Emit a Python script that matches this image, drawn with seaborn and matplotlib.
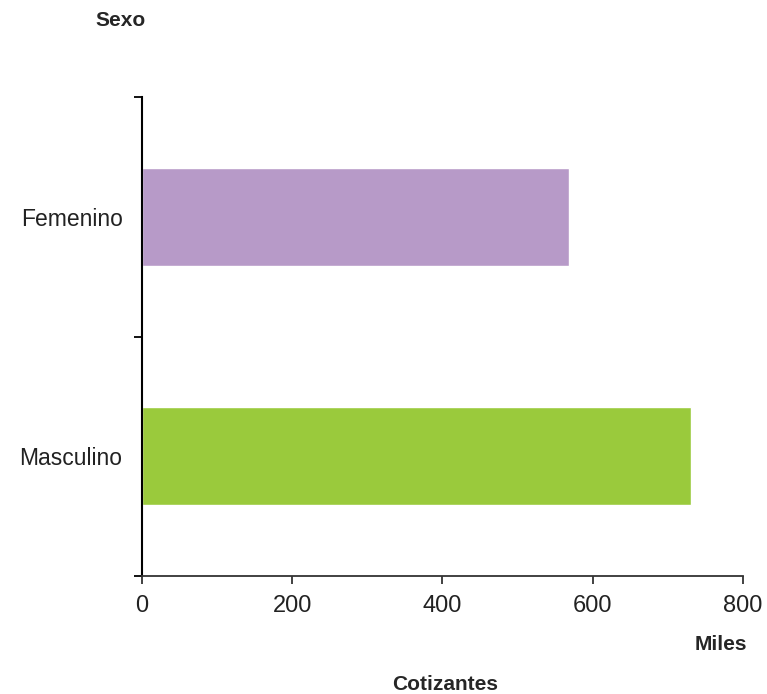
import matplotlib
matplotlib.use("Agg")
import matplotlib.pyplot as plt
import seaborn as sns
import pandas as pd
from matplotlib.ticker import FixedLocator

categories = ["Femenino", "Masculino"]
values = [568, 731]
colors = ["#b79ac8", "#9aca3c"]
xticks = [0, 200, 400, 600, 800]

sns.set_theme(style="white")
plt.rcParams["font.family"] = ["Liberation Sans", "DejaVu Sans"]

df = pd.DataFrame({"Sexo": categories, "Cotizantes": values})

fig = plt.figure(figsize=(7.67, 6.94), dpi=100)
ax = fig.add_axes([142/767, 1-576/694, (743-142)/767, (576-97)/694])

sns.barplot(data=df, y="Sexo", x="Cotizantes", hue="Sexo", palette=colors,
            orient="h", width=0.41, ax=ax, legend=False, saturation=1)

ax.set_xlim(0, 800)
ax.set_ylim(1.5, -0.5)
ax.set_xticks(xticks)
ax.set_xticklabels([str(v) for v in xticks], fontsize=17, color="#222222")
ax.set_yticks([0, 1])
ax.set_yticklabels(categories, fontsize=16.5, color="#222222")
ax.yaxis.set_minor_locator(FixedLocator([-0.5, 0.5, 1.5]))
ax.tick_params(axis="y", which="major", length=0, pad=14)
ax.tick_params(axis="y", which="minor", length=6, width=1.3, color="black", left=True)
ax.tick_params(axis="x", which="major", length=6, width=1.3, color="#333333", bottom=True, pad=8)
ax.set_xlabel("")
ax.set_ylabel("")

for s in ["top", "right"]:
    ax.spines[s].set_visible(False)
ax.spines["left"].set_color("black")
ax.spines["left"].set_linewidth(1.5)
ax.spines["bottom"].set_color("#333333")
ax.spines["bottom"].set_linewidth(1.3)

fig.text(121/767, 1-21/694, "Sexo", ha="center", va="center", fontsize=15, fontweight="bold")
fig.text(747/767, 1-644/694, "Miles", ha="right", va="center", fontsize=15, fontweight="bold")
fig.text(445/767, 1-684/694, "Cotizantes", ha="center", va="center", fontsize=15, fontweight="bold")

fig.savefig("out.png", dpi=100)
